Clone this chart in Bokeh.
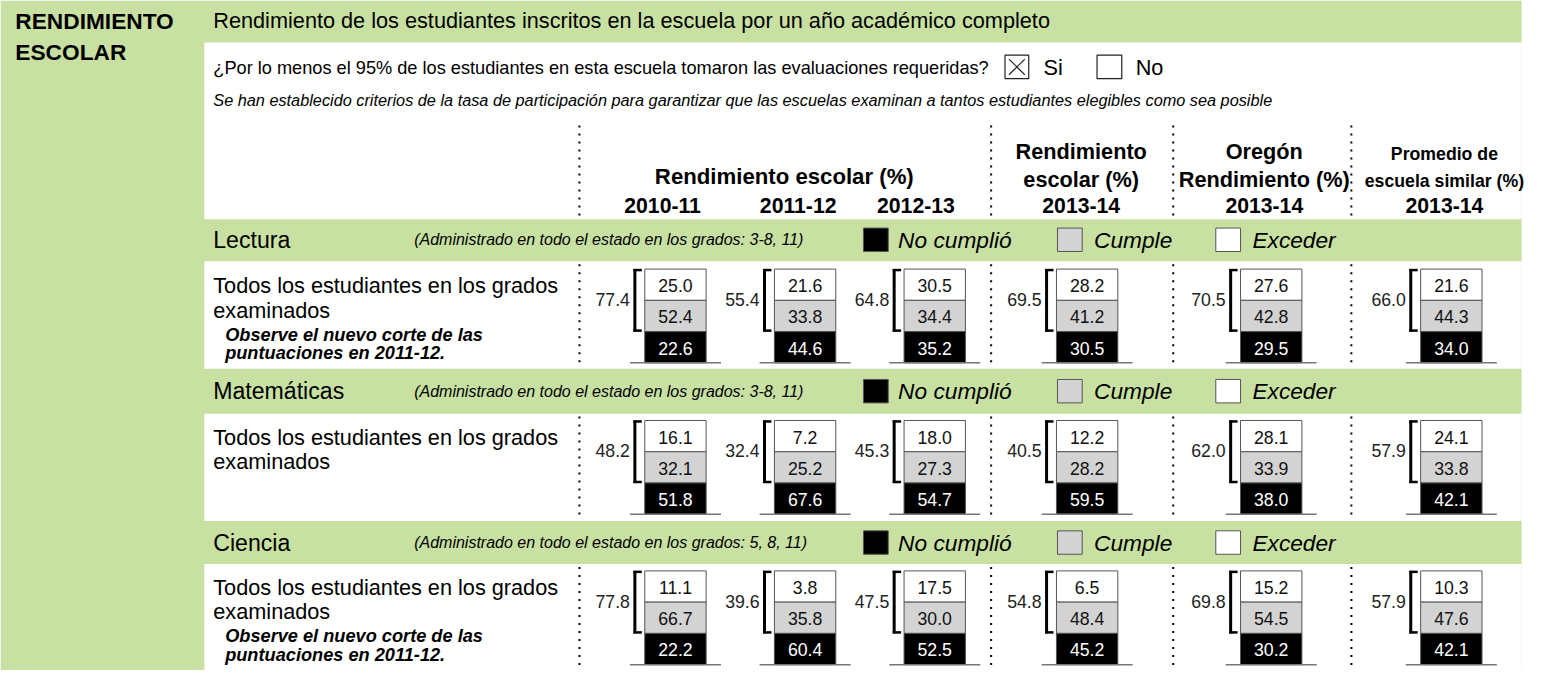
from bokeh.plotting import figure
from bokeh.models import Range1d
from bokeh.core.properties import value
from bokeh.embed import file_html
from bokeh.resources import INLINE

# ---------------- data ----------------
years = ["2010-11", "2011-12", "2012-13"]
subjects = ["Lectura", "Matemáticas", "Ciencia"]
grades_notes = ["(Administrado en todo el estado en los grados: 3-8, 11)",
                "(Administrado en todo el estado en los grados: 3-8, 11)",
                "(Administrado en todo el estado en los grados: 5, 8, 11)"]
legend_labels = ["No cumplió", "Cumple", "Exceder"]

lectura_exceder = [25.0, 21.6, 30.5, 28.2, 27.6, 21.6]
lectura_cumple = [52.4, 33.8, 34.4, 41.2, 42.8, 44.3]
lectura_no = [22.6, 44.6, 35.2, 30.5, 29.5, 34.0]
lectura_total = [77.4, 55.4, 64.8, 69.5, 70.5, 66.0]

mat_exceder = [16.1, 7.2, 18.0, 12.2, 28.1, 24.1]
mat_cumple = [32.1, 25.2, 27.3, 28.2, 33.9, 33.8]
mat_no = [51.8, 67.6, 54.7, 59.5, 38.0, 42.1]
mat_total = [48.2, 32.4, 45.3, 40.5, 62.0, 57.9]

ciencia_exceder = [11.1, 3.8, 17.5, 6.5, 15.2, 10.3]
ciencia_cumple = [66.7, 35.8, 30.0, 48.4, 54.5, 47.6]
ciencia_no = [22.2, 60.4, 52.5, 45.2, 30.2, 42.1]
ciencia_total = [77.8, 39.6, 47.5, 54.8, 69.8, 57.9]

# ---------------- layout ----------------
W, H = 1547, 686
S = 0.985
GREEN = "#C8E1A3"
GRAY = "#D3D3D3"
FONT = "Liberation Sans"

p = figure(width=1531, height=670, x_range=Range1d(0, W), y_range=Range1d(H, 0),
           output_backend="svg", toolbar_location=None, min_border=0,
           x_axis_type=None, y_axis_type=None)
p.grid.visible = False
p.outline_line_color = None
p.background_fill_color = "white"
p.border_fill_color = "white"


def T(x, y, s, size, align="left", style="normal", color="#000000"):
    p.text(x=[x], y=[y], text=[s], text_font=value(FONT),
           text_font_size=f"{size * S:.1f}px", text_align=align,
           text_baseline="middle", text_font_style=style, text_color=color)


# background panels
p.quad(left=[0], right=[1537], top=[0], bottom=[H], fill_color=GREEN, line_color=None)
panels = [(43, 224), (267, 377), (423, 533), (577, H)]
p.quad(left=[206] * 4, right=[1537] * 4, top=[a for a, b in panels],
       bottom=[b for a, b in panels], fill_color="white", line_color=None)

# dotted separators
sep_x = [585, 1001, 1185, 1365]
spans = [(128, 222), (270, 376), (426, 532), (580, H)]
xs0, ys0, ys1 = [], [], []
for a, b in spans:
    for x in sep_x:
        xs0.append(x); ys0.append(a); ys1.append(b)
p.segment(x0=xs0, y0=ys0, x1=xs0, y1=ys1, line_color="black", line_width=2,
          line_dash="2 6")

# header texts
T(15, 21, "RENDIMIENTO", 23, style="bold")
T(15, 53, "ESCOLAR", 23, style="bold")
T(215, 20, "Rendimiento de los estudiantes inscritos en la escuela por un año académico completo", 22)
T(215, 69, "¿Por lo menos el 95% de los estudiantes en esta escuela tomaron las evaluaciones requeridas?", 18.5)
p.quad(left=[1015, 1108], right=[1039, 1133], top=[56, 56], bottom=[80, 80],
       fill_color="white", line_color="#222222", line_width=1.2)
p.segment(x0=[1019, 1019], y0=[60, 76], x1=[1035, 1035], y1=[76, 60],
          line_color="#222222", line_width=1.2)
T(1054, 69, "Si", 22)
T(1147, 69, "No", 22)
T(215, 102, "Se han establecido criterios de la tasa de participación para garantizar que las escuelas examinan a tantos estudiantes elegibles como sea posible", 16.5, style="italic")

T(792, 180, "Rendimiento escolar (%)", 22.5, align="center", style="bold")
for cx, yr in zip([669, 806, 925], years):
    T(cx, 210, yr, 21.5, align="center", style="bold")
T(1092, 155, "Rendimiento", 22, align="center", style="bold")
T(1092, 183, "escolar (%)", 22, align="center", style="bold")
T(1092, 210, "2013-14", 21.5, align="center", style="bold")
T(1277, 155, "Oregón", 22, align="center", style="bold")
T(1277, 183, "Rendimiento (%)", 22, align="center", style="bold")
T(1277, 210, "2013-14", 21.5, align="center", style="bold")
T(1459, 157, "Promedio de", 18, align="center", style="bold")
T(1459, 185, "escuela similar (%)", 18, align="center", style="bold")
T(1459, 210, "2013-14", 21.5, align="center", style="bold")

# bands and rows
band_y = [245, 400, 555]
row_tops = [275, 430, 584]
box_left = [651, 782, 913, 1067, 1253, 1435]
BW, CH = 62, 32

data = [
    (lectura_exceder, lectura_cumple, lectura_no, lectura_total),
    (mat_exceder, mat_cumple, mat_no, mat_total),
    (ciencia_exceder, ciencia_cumple, ciencia_no, ciencia_total),
]
notes = [True, False, True]

for i in range(3):
    by = band_y[i]
    T(215, by, subjects[i], 23.5)
    T(418, by, grades_notes[i], 16.2, style="italic")
    p.quad(left=[872, 1068, 1228], right=[897, 1093, 1253],
           top=[by - 12] * 3, bottom=[by + 12] * 3,
           fill_color=["black", GRAY, "white"], line_color="#555555", line_width=1)
    for lx, lab in zip([907, 1105, 1265], legend_labels):
        T(lx, by, lab, 23, style="italic")

    top = row_tops[i]
    T(215, top + 17, "Todos los estudiantes en los grados", 22)
    T(215, top + 42, "examinados", 22)
    if notes[i]:
        T(227, top + 67, "Observe el nuevo corte de las", 18.5, style="bold italic")
        T(227, top + 86, "puntuaciones en 2011-12.", 18.5, style="bold italic")

    exc, cum, no, tot = data[i]
    L, R, Tp, B, F = [], [], [], [], []
    tx, ty, tt, tc = [], [], [], []
    for c in range(6):
        lft = box_left[c]
        for k, (vals, fill, col) in enumerate([(exc, "white", "#111111"),
                                                (cum, GRAY, "#111111"),
                                                (no, "black", "white")]):
            L.append(lft); R.append(lft + BW)
            Tp.append(top + k * CH); B.append(top + (k + 1) * CH); F.append(fill)
            tx.append(lft + BW / 2); ty.append(top + k * CH + CH / 2 + 1)
            tt.append(f"{vals[c]:.1f}"); tc.append(col)
    p.quad(left=L, right=R, top=Tp, bottom=B, fill_color=F, line_color="#555555", line_width=1)
    p.text(x=tx, y=ty, text=tt, text_color=tc, text_font=value(FONT),
           text_font_size=f"{18 * S:.1f}px", text_align="center", text_baseline="middle")
    # brackets
    bx = [l - 10 for l in box_left]
    p.segment(x0=bx, y0=[top] * 6, x1=bx, y1=[top + 2 * CH] * 6, line_color="black", line_width=3)
    p.segment(x0=[x - 1.5 for x in bx], y0=[top + 1] * 6, x1=[l - 3 for l in box_left], y1=[top + 1] * 6,
              line_color="black", line_width=2.5)
    p.segment(x0=[x - 1.5 for x in bx], y0=[top + 2 * CH - 1] * 6, x1=[l - 3 for l in box_left],
              y1=[top + 2 * CH - 1] * 6, line_color="black", line_width=2.5)
    # baselines
    p.segment(x0=[l - 15 for l in box_left], y0=[top + 3 * CH] * 6,
              x1=[l + BW + 15 for l in box_left], y1=[top + 3 * CH] * 6,
              line_color="#777777", line_width=1.5)
    # totals
    p.text(x=[l - 15 for l in box_left], y=[top + 31] * 6, text=[f"{v:.1f}" for v in tot],
           text_color="#222222", text_font=value(FONT), text_font_size=f"{18 * S:.1f}px",
           text_align="right", text_baseline="middle")

open("out.html", "w").write(file_html(p, INLINE))
